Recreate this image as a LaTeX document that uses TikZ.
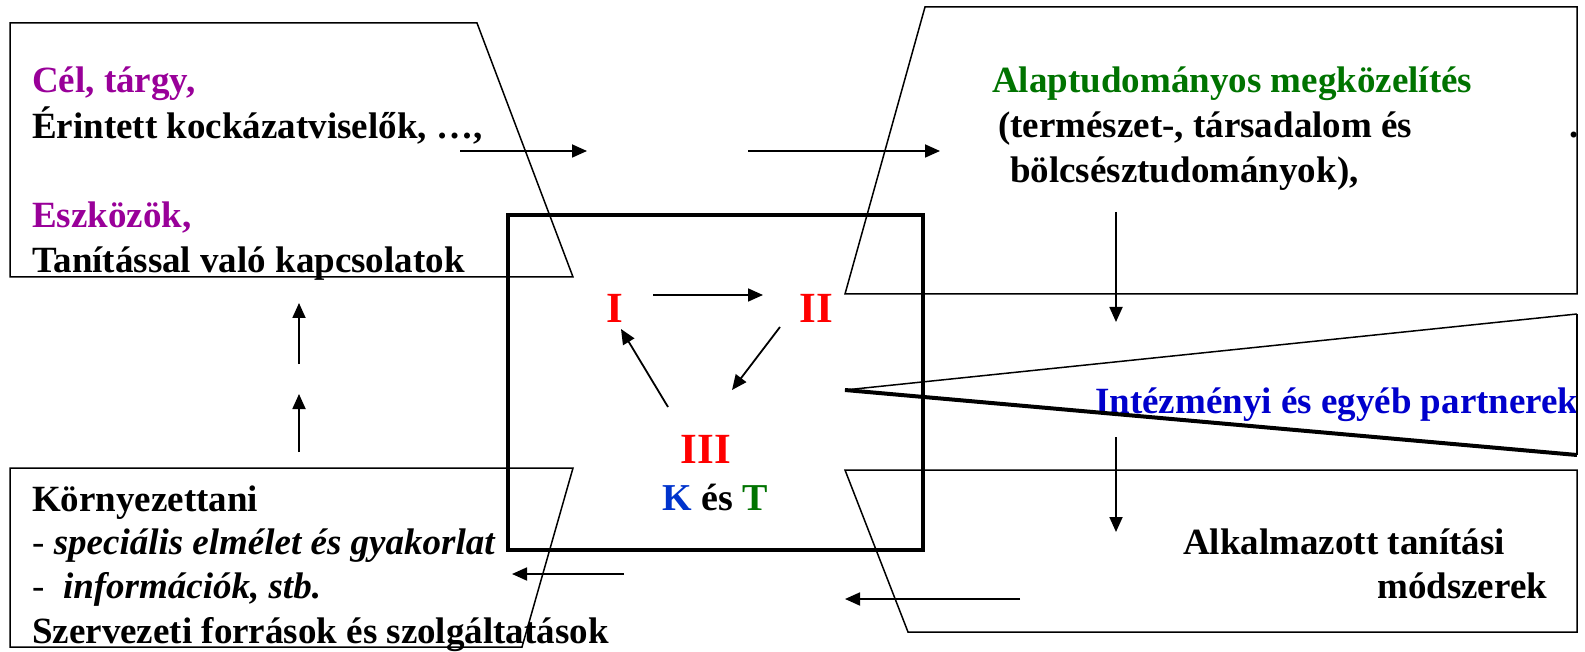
\documentclass[tikz,border=0pt]{standalone}
\usepackage{fontspec}
\setmainfont{Liberation Serif}
\usetikzlibrary{arrows.meta}
\definecolor{cpurple}{RGB}{153,0,153}
\definecolor{cgreen}{RGB}{0,115,0}
\definecolor{cblue}{RGB}{0,0,204}
\definecolor{kblue}{RGB}{0,51,204}
\definecolor{cred}{RGB}{255,0,0}
\begin{document}
\begin{tikzpicture}[x=1pt,y=-1pt,
  boxline/.style={draw=black, line width=1.5pt, line join=miter},
  arr/.style={draw=black, line width=1.8pt, -{Triangle[length=15pt,width=13pt]}},
  txt/.style={anchor=base west, inner sep=0pt, font=\fontsize{37}{44}\selectfont\bfseries},
  roman/.style={anchor=base, inner sep=0pt, font=\fontsize{43}{50}\selectfont\bfseries, text=cred},
  kt/.style={anchor=base, inner sep=0pt, font=\fontsize{38}{44}\selectfont\bfseries}]
\useasboundingbox (0,0) rectangle (1585,652);

% ---- texts ----
\node[txt, text=cpurple] (cel) at (32,93) {Cél, tárgy,};
\node[txt] (erint) at (32,139) {Érintett kockázatviselők, …,};
\node[txt, text=cpurple] (eszk) at (32,228) {Eszközök,};
\node[txt] (tanit) at (32,273) {Tanítással való kapcsolatok};

\node[txt, text=cgreen] (alap) at (992,93) {Alaptudományos megközelítés};
\node[txt] (term) at (998,138) {(természet-, társadalom és};
\node[txt] (dot) at (1569,138) {.};
\node[txt] (bolcs) at (1010,183) {bölcsésztudományok),};

\node[txt, text=cblue] (intez) at (1095,413) {Intézményi és egyéb partnerek};

\node[txt] (alk) at (1183,554) {Alkalmazott tanítási};
\node[txt] (mod) at (1377,598) {módszerek};

\node[txt] (korny) at (32,511) {Környezettani};
\node[txt] (spec) at (32,554) {{\mdseries -}\ \textit{speciális elmélet és gyakorlat}};
\node[txt] (info) at (32,598) {{\mdseries -}\ \ \textit{információk, stb.}};
\node[txt] (szerv) at (32,643) {Szervezeti források és szolgáltatások};

\node[roman] (I) at (615,323) {I};
\node[roman] (II) at (816,323) {II};
\node[roman] (III) at (706,463) {III};
\node[kt] (KT) at (715,510) {\textcolor{kblue}{K} és \textcolor{cgreen}{T}};

% ---- shapes ----
\draw[boxline] (10,23) -- (477,23) -- (573,277) -- (10,277) -- cycle;
\draw[boxline] (925,7) -- (1577,7) -- (1577,294) -- (845,294) -- cycle;
\draw[boxline] (845,470) -- (1577,470) -- (1577,632) -- (908,632) -- cycle;
\draw[boxline] (10,647) -- (10,468) -- (573,468) -- (522,647) -- cycle;
\draw[black, line width=1.5pt] (1577,314) -- (845,390);
\draw[black, line width=1.5pt] (1577,314) -- (1577,455);
\draw[black, line width=4pt] (845,390) -- (1577,455);
\draw[black, line width=3.3pt] (508,215) rectangle (923,550);

% ---- arrows ----
\coordinate (a1s) at (460,151); \coordinate (a1e) at (587,151);
\coordinate (a2s) at (748,151); \coordinate (a2e) at (940,151);
\coordinate (a3s) at (1116,212); \coordinate (a3e) at (1116,322);
\coordinate (a4s) at (1116,437); \coordinate (a4e) at (1116,532);
\coordinate (a5s) at (1020,599); \coordinate (a5e) at (845,599);
\coordinate (a6s) at (624,574); \coordinate (a6e) at (512,574);
\coordinate (a7s) at (299,452); \coordinate (a7e) at (299,394);
\coordinate (a8s) at (299,364); \coordinate (a8e) at (299,303);
\coordinate (c1s) at (653,295); \coordinate (c1e) at (763,295);
\coordinate (c2s) at (780,327); \coordinate (c2e) at (732,390);
\coordinate (c3s) at (668,407); \coordinate (c3e) at (621,329);
\foreach \a in {a1,a2,a3,a4,a5,a6,a7,a8,c1,c2,c3}
  \draw[arr] (\a s) -- (\a e);
\end{tikzpicture}
\end{document}
